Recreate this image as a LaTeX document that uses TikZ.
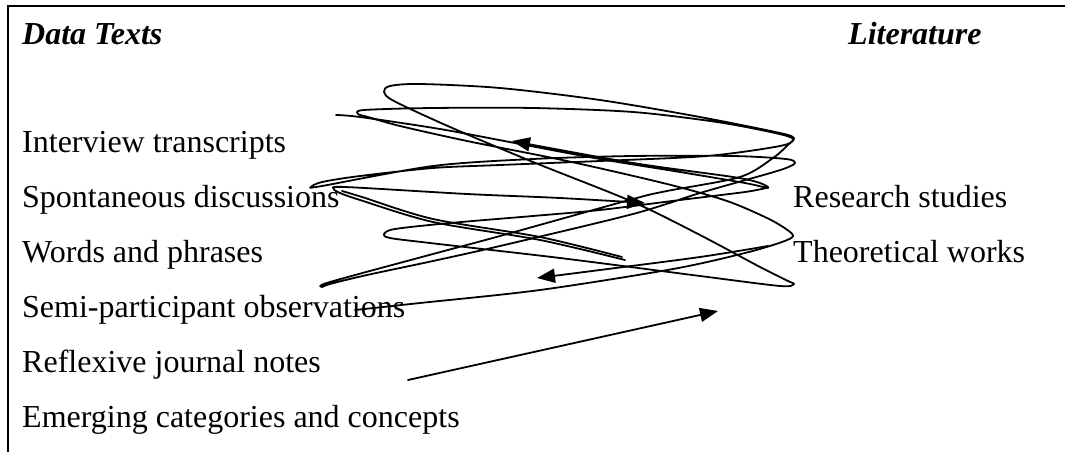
\documentclass[tikz,border=0pt]{standalone}
\usepackage{fontspec}
\setmainfont{Liberation Serif}
\usetikzlibrary{arrows.meta}
\tikzset{
  lbl/.style={anchor=base west, inner sep=0pt, font=\fontsize{32}{38}\selectfont},
  head/.style={anchor=base west, inner sep=0pt, font=\fontsize{32}{38}\selectfont\bfseries\itshape},
  scrib/.style={line width=1.8pt, line join=round, line cap=round},
  tip/.style={-{Triangle[length=18pt,width=14pt]}},
  frame/.style={line width=2.2pt}
}
\begin{document}
\begin{tikzpicture}[x=1pt, y=-1pt]
\useasboundingbox (0,0) rectangle (1065,452);

% frame: top and left rules
\draw[frame] (8,452) -- (8,6) -- (1065,6);

% column headings
\node[head] (hdata) at (22,45) {Data Texts};
\node[head] (hlit) at (848,45) {Literature};

% data texts column
\node[lbl] (interview) at (22,152) {Interview transcripts};
\node[lbl] (spont) at (22,207) {Spontaneous discussions};
\node[lbl] (words) at (22,262) {Words and phrases};
\node[lbl] (semi) at (22,317) {Semi-participant observations};
\node[lbl] (reflex) at (22,372) {Reflexive journal notes};
\node[lbl] (emerg) at (22,427) {Emerging categories and concepts};

% literature column
\node[lbl] (research) at (793,207) {Research studies};
\node[lbl] (theory) at (793,262) {Theoretical works};

% the long looping scribble between the two columns
\draw[scrib] plot[smooth, tension=0.5] coordinates {
  (355,310) (420,303) (540,290) (673,269) (745,253) (782,242) (793,236)
  (786,229) (767,218) (727,201) (667,184) (567,161) (467,141) (400,126)
  (368,117) (358,114) (364,110) (433,108) (533,108) (633,112) (717,122)
  (775,133) (793,139)
  (780,146) (707,156) (600,161) (500,165) (433,168) (360,176) (322,182)
  (311,187) (322,186)
  (433,166) (533,159) (633,156) (733,156) (786,159) (795,163) (786,168)
  (767,174) (700,193) (633,214) (500,246) (433,261) (367,275) (330,284)
  (322,287) (330,282)
  (433,254) (500,236) (633,199) (667,191) (740,177) (773,158) (790,143)
  (794,138)
  (780,133) (700,117) (600,100) (500,88) (420,84) (390,86) (384,92)
  (394,101) (450,127) (533,162) (633,202) (700,235) (760,267) (788,281)
  (794,284) (780,286) (700,276) (560,258) (430,243) (390,238) (384,234)
  (395,229) (450,223) (533,216) (600,210) (680,200) (745,192) (766,188)
};

% free line looping back onto itself with a head
\draw[scrib, tip] plot[smooth, tension=0.5] coordinates {
  (336,115) (360,117) (440,129) (520,144) (600,159) (680,172) (745,183)
  (768,188) (760,183) (733,177) (633,163) (512,141)
};

% doubled stroke from the left loop, ending in a head
\draw[scrib, tip] plot[smooth, tension=0.5] coordinates {
  (625,260) (540,240) (433,222) (360,200) (340,193) (334,189) (345,187)
  (467,194) (560,198) (645,203)
};
\draw[scrib] plot[smooth, tension=0.5] coordinates {
  (622,257) (540,237) (433,219) (362,197) (342,191)
};

% lower returning arrow
\draw[scrib, tip] plot[smooth, tension=0.5] coordinates {
  (768,246) (700,257) (600,270) (537,278)
};

% straight arrow from the bottom
\coordinate (a0) at (408,380);
\coordinate (a1) at (718,311);
\draw[scrib, tip] (a0) -- (a1);
\end{tikzpicture}
\end{document}
